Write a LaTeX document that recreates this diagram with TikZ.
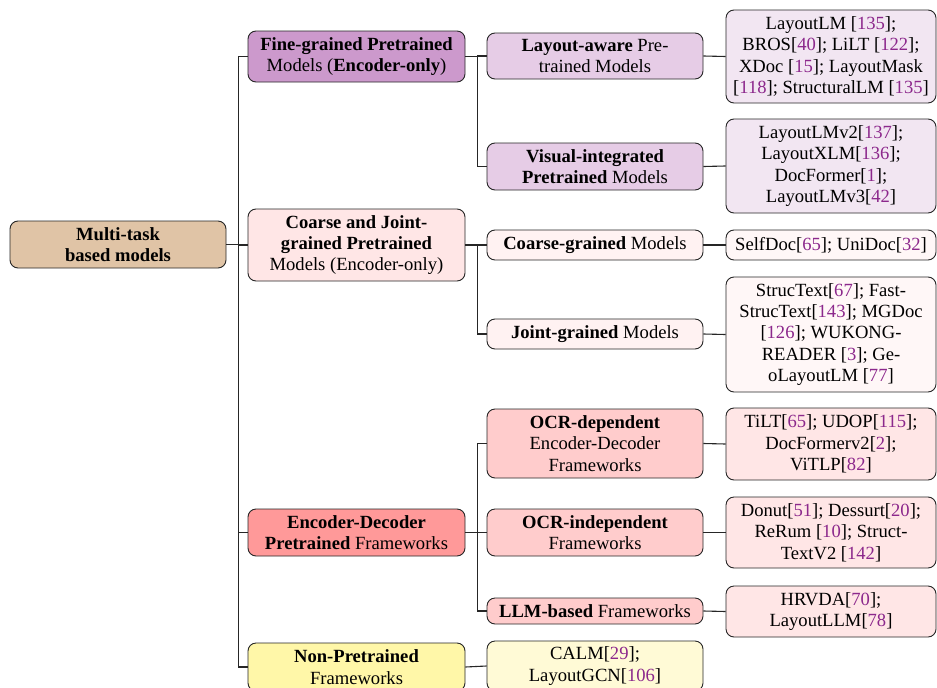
\documentclass[tikz,border=0pt]{standalone}
\usepackage{fontspec}
\setmainfont{Liberation Serif}
\usepackage{xcolor}
\definecolor{citec}{RGB}{140,40,140}
\definecolor{rootc}{RGB}{224,196,166}
\definecolor{fineA}{RGB}{204,153,204}
\definecolor{fineB}{RGB}{230,204,230}
\definecolor{fineC}{RGB}{242,230,242}
\definecolor{coarA}{RGB}{255,230,230}
\definecolor{coarB}{RGB}{255,242,242}
\definecolor{coarC}{RGB}{255,247,247}
\definecolor{encA}{RGB}{255,153,153}
\definecolor{encB}{RGB}{255,204,204}
\definecolor{encC}{RGB}{255,230,230}
\definecolor{nonA}{RGB}{255,247,168}
\definecolor{nonB}{RGB}{255,250,214}
\newcommand{\ct}[1]{[\textcolor{citec}{#1}]}
\tikzset{
  box/.style={draw=black!85, line width=0.9pt, rounded corners=8pt, align=center,
    inner sep=0pt, font=\fontsize{18.6}{21.3}\selectfont},
  lvlzero/.style={box, minimum width=216pt},
  lvlone/.style={box, minimum width=217pt},
  lvltwo/.style={box, minimum width=216pt},
  leafbox/.style={box, minimum width=210pt},
  conn/.style={draw=black!85, line width=1.1pt}
}
\begin{document}
\begin{tikzpicture}[x=1pt,y=-1pt]
\useasboundingbox (0,0) rectangle (937,688);
% root
\node[lvlzero, fill=rootc, minimum height=47pt] (root) at (118,244.5) {\textbf{Multi-task}\\ \textbf{based models}};
% level 1
\node[lvlone, fill=fineA, minimum height=51pt] (fine) at (356.5,56.5) {\textbf{Fine-grained Pretrained}\\ Models (\textbf{Encoder-only})};
\node[lvlone, fill=coarA, minimum height=72pt] (coarse) at (356.5,245) {\textbf{Coarse and Joint-}\\ \textbf{grained Pretrained}\\ Models (Encoder-only)};
\node[lvlone, fill=encA, minimum height=47pt] (encdec) at (356.5,532.5) {\textbf{Encoder-Decoder}\\ \textbf{Pretrained} Frameworks};
\node[lvlone, fill=nonA, minimum height=48pt] (nonpre) at (356.5,667) {\textbf{Non-Pretrained}\\ Frameworks};
% level 2
\node[lvltwo, fill=fineB, minimum height=46pt] (la) at (595,56) {\textbf{Layout-aware} Pre-\\ trained Models};
\node[lvltwo, fill=fineB, minimum height=47pt] (vi) at (595,166.5) {\textbf{Visual-integrated}\\ \textbf{Pretrained} Models};
\node[lvltwo, fill=coarB, minimum height=30pt] (cg) at (595,245) {\textbf{Coarse-grained} Models};
\node[lvltwo, fill=coarB, minimum height=30pt] (jg) at (595,334) {\textbf{Joint-grained} Models};
\node[lvltwo, fill=encB, minimum height=69pt] (od) at (595,443.5) {\textbf{OCR-dependent}\\ Encoder-Decoder\\ Frameworks};
\node[lvltwo, fill=encB, minimum height=47pt] (oi) at (595,532.5) {\textbf{OCR-independent}\\ Frameworks};
\node[lvltwo, fill=encB, minimum height=26pt] (llm) at (595,611) {\textbf{LLM-based} Frameworks};
\node[lvltwo, fill=nonB, minimum height=50pt] (calm) at (595,666) {CALM\ct{29};\\ LayoutGCN\ct{106}};
% leaves
\node[leafbox, fill=fineC, minimum height=93pt] (l1) at (831,56.5) {LayoutLM \ct{135};\\ BROS\ct{40}; LiLT \ct{122};\\ XDoc \ct{15}; LayoutMask\\ \ct{118}; StructuralLM \ct{135}};
\node[leafbox, fill=fineC, minimum height=94pt] (l2) at (831,166) {LayoutLMv2\ct{137};\\ LayoutXLM\ct{136};\\ DocFormer\ct{1};\\ LayoutLMv3\ct{42}};
\node[leafbox, fill=coarC, minimum height=30pt] (l3) at (831,245) {SelfDoc\ct{65}; UniDoc\ct{32}};
\node[leafbox, fill=coarC, minimum height=115pt] (l4) at (831,334.5) {StrucText\ct{67}; Fast-\\ StrucText\ct{143}; MGDoc\\ \ct{126}; WUKONG-\\ READER \ct{3}; Ge-\\ oLayoutLM \ct{77}};
\node[leafbox, fill=encC, minimum height=72pt] (l5) at (831,444) {TiLT\ct{65}; UDOP\ct{115};\\ DocFormerv2\ct{2};\\ ViTLP\ct{82}};
\node[leafbox, fill=encC, minimum height=71pt] (l6) at (831,532.5) {Donut\ct{51}; Dessurt\ct{20};\\ ReRum \ct{10}; Struct-\\ TextV2 \ct{142}};
\node[leafbox, fill=encC, minimum height=51pt] (l7) at (831,611.5) {HRVDA\ct{70};\\ LayoutLLM\ct{78}};
% junctions
\coordinate (t0) at (238.5,244.5);
\coordinate (tf) at (477.5,56.5);
\coordinate (tc) at (477.5,245);
\coordinate (te) at (477.5,532.5);
% connectors
\draw[conn] (root.east) -- (t0);
\draw[conn] (t0) |- (fine.west);
\draw[conn] (t0) |- (coarse.west);
\draw[conn] (t0) |- (encdec.west);
\draw[conn] (t0) |- (nonpre.west);
\draw[conn] (fine.east) -- (tf);
\draw[conn] (tf) |- (la.west);
\draw[conn] (tf) |- (vi.west);
\draw[conn] (coarse.east) -- (tc);
\draw[conn] (tc) |- (cg.west);
\draw[conn] (tc) |- (jg.west);
\draw[conn] (encdec.east) -- (te);
\draw[conn] (te) |- (od.west);
\draw[conn] (te) |- (oi.west);
\draw[conn] (te) |- (llm.west);
\draw[conn] (nonpre.east) -- (calm.west);
\draw[conn] (la.east) -- (l1.west);
\draw[conn] (vi.east) -- (l2.west);
\draw[conn] (cg.east) -- (l3.west);
\draw[conn] (jg.east) -- (l4.west);
\draw[conn] (od.east) -- (l5.west);
\draw[conn] (oi.east) -- (l6.west);
\draw[conn] (llm.east) -- (l7.west);
\end{tikzpicture}
\end{document}
